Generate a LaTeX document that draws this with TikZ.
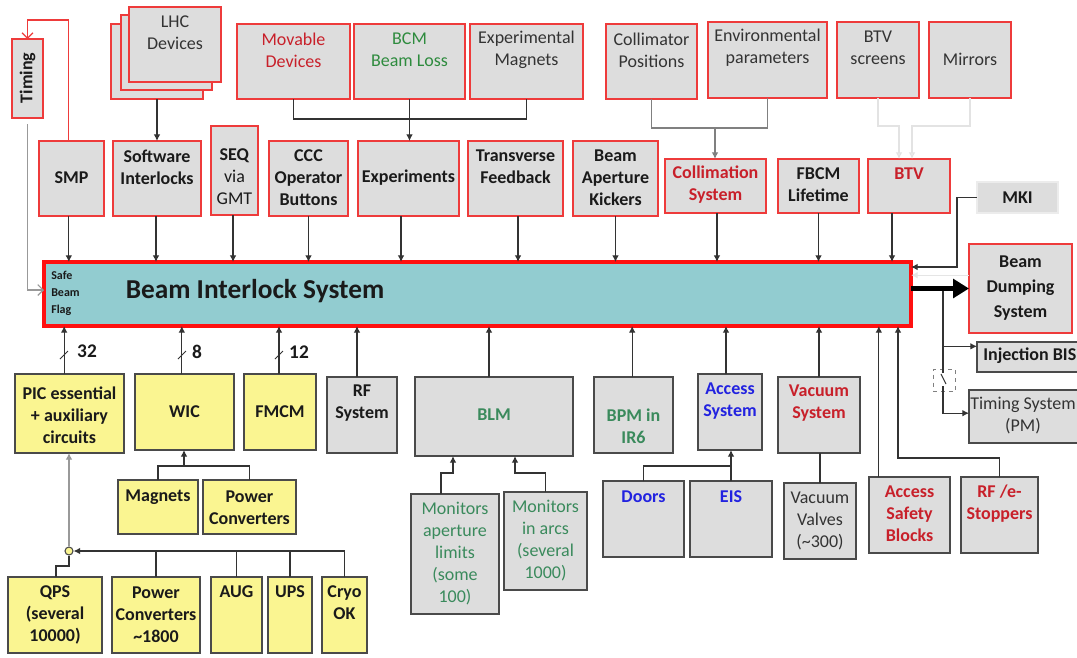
\documentclass[tikz,border=0pt]{standalone}
\usepackage{fontspec}
\setmainfont{Carlito}
\usetikzlibrary{arrows.meta}
\definecolor{boxgray}{HTML}{DDDDDD}
\definecolor{boxred}{HTML}{EE3B3B}
\definecolor{boxdark}{HTML}{4A4A4A}
\definecolor{ylw}{HTML}{FAF591}
\definecolor{bisfill}{HTML}{92CCD0}
\definecolor{bisred}{HTML}{FF1010}
\definecolor{txtdark}{HTML}{1A1A1A}
\definecolor{txtgray}{HTML}{333333}
\definecolor{tred}{HTML}{C8202A}
\definecolor{tgreen}{HTML}{2E8B3E}
\definecolor{tgreen2}{HTML}{3A8A5C}
\definecolor{tblue}{HTML}{2222E0}
\definecolor{linegray}{HTML}{333333}
\definecolor{lightline}{HTML}{999999}
\tikzset{
  base/.style={rectangle, inner sep=0pt, outer sep=0pt},
  rbox/.style={base, fill=boxgray, draw=boxred, line width=1.1pt},
  gbox/.style={base, fill=boxgray, draw=boxdark, line width=1.1pt},
  ybox/.style={base, fill=ylw, draw=boxdark, line width=1.1pt},
  mkibox/.style={base, fill=boxgray, draw=gray!15, line width=1.1pt},
  bisbox/.style={base, fill=bisfill, draw=bisred, line width=2.3pt},
  txt/.style={inner sep=0pt, align=center, font=\fontsize{13.5}{16.5}\selectfont, text=txtgray},
  btxt/.style={txt, font=\fontsize{13.5}{16.5}\selectfont\bfseries, text=txtdark},
  ln/.style={draw=linegray, line width=0.9pt},
  arr/.style={ln, -{Latex[length=5pt,width=5pt]}},
  barb/.style={line width=0.9pt, -{Straight Barb[length=4pt,width=8pt]}},
  wline/.style={draw=gray!22, line width=1pt, -{Latex[open,length=5pt,width=5pt]}},
}
\newcommand\drawbox[9]{%
  \node[#1, minimum width={(#5-#3)*0.75pt}, minimum height={(#6-#4)*0.75pt}] (#2) at ({(#3+#5)/2},{(#4+#6)/2}) {};
  \node[#7] (#2-t) at ({(#3+#5)/2},#8) {#9};}
\begin{document}
\begin{tikzpicture}[x=0.75pt,y=-0.75pt]
\clip (0,0) rectangle (1077,657);
\fill[white] (0,0) rectangle (1077,657);

% ---------- top row ----------
\node[rbox, minimum width=69pt, minimum height=56.25pt] (lhcc) at (157,61.5) {};
\node[rbox, minimum width=68.25pt, minimum height=56.25pt] (lhcb) at (166.5,52.5) {};
\drawbox{rbox}{lhc}{129}{7}{221}{82}{txt}{33}{LHC\\Devices}
\drawbox{rbox}{mov}{237}{24}{350}{99}{txt, text=tred}{50}{Movable\\Devices}
\drawbox{rbox}{bcm}{354}{24}{465}{99}{txt, text=tgreen}{50}{BCM\\Beam Loss}
\drawbox{rbox}{exm}{470}{24}{583}{99}{txt}{50}{Experimental\\Magnets}
\drawbox{rbox}{colp}{606}{24}{697}{99}{txt}{50}{Collimator\\Positions}
\drawbox{rbox}{env}{708}{22}{827}{98}{txt}{48}{Environmental\\parameters}
\drawbox{rbox}{btvs}{837}{22}{919}{98}{txt}{48}{BTV\\screens}
\drawbox{rbox}{mir}{929}{22}{1011}{98}{txt}{59}{Mirrors}
\drawbox{rbox}{timing}{12}{39}{43}{118}{btxt, rotate=90}{78}{Timing}

% ---------- second row ----------
\drawbox{rbox}{smp}{39}{141}{104}{216}{btxt}{178}{SMP}
\drawbox{rbox}{swi}{113}{141}{201}{216}{btxt}{167}{Software\\Interlocks}
\drawbox{rbox}{seq}{211}{126}{258}{215}{txt, text=txtdark}{177}{\textbf{SEQ}\\via\\GMT}
\drawbox{rbox}{ccc}{269}{141}{348}{216}{btxt}{178}{CCC\\Operator\\Buttons}
\drawbox{rbox}{exp}{358}{141}{459}{216}{btxt}{178}{Experiments}
\drawbox{rbox}{tfb}{468}{141}{563}{216}{btxt}{167}{Transverse\\Feedback}
\drawbox{rbox}{bak}{573}{141}{658}{216}{btxt}{178}{Beam\\Aperture\\Kickers}
\drawbox{rbox}{coll}{665}{159}{766}{213}{btxt, text=tred}{185}{Collimation\\System}
\drawbox{rbox}{fbcm}{778}{159}{859}{213}{btxt}{185}{FBCM\\Lifetime}
\drawbox{rbox}{btv}{868}{159}{950}{213}{btxt, text=tred}{174}{BTV}
\drawbox{mkibox}{mki}{977}{182}{1058}{213}{btxt}{198}{MKI}

% ---------- BIS ----------
\node[bisbox, minimum width=650.25pt, minimum height=48pt] (bis) at (477.5,294) {};
\node[inner sep=0pt, font=\fontsize{20.5}{24}\selectfont\bfseries, text=txtdark] (bist) at (255,291) {Beam Interlock System};
\node[inner sep=0pt, anchor=west, align=left, font=\fontsize{9}{12.75}\selectfont\bfseries, text=txtdark] (sbf) at (51,293) {Safe\\Beam\\Flag};

% ---------- right side ----------
\drawbox{rbox}{bds}{969}{244}{1072}{333}{btxt, font=\fontsize{13.5}{18.75}\selectfont\bfseries}{288}{Beam\\Dumping\\System}
\node[gbox, minimum width=88.5pt, minimum height=22.5pt] (inj) at (1036,357) {};
\node[btxt, anchor=west] (inj-t) at (983,356) {Injection BIS};
\node[gbox, minimum width=87pt, minimum height=39.75pt] (tsys) at (1027,416.5) {};
\node[txt] (tsys-t) at (1023,416) {Timing System\\(PM)};
\node[draw=gray, dashed, line width=0.6pt, minimum width=16.5pt, minimum height=17pt, inner sep=0pt] (swb) at (944,380.5) {};

% ---------- bottom row 1 ----------
\drawbox{ybox}{pic}{15}{374}{124}{453}{btxt}{415}{PIC essential\\+ auxiliary\\circuits}
\drawbox{ybox}{wic}{135}{374}{234}{450}{btxt}{412}{WIC}
\drawbox{ybox}{fmcm}{244}{374}{316}{450}{btxt}{412}{FMCM}
\drawbox{gbox}{rf}{327}{377}{397}{453}{btxt}{403}{RF\\System}
\drawbox{gbox}{blm}{415}{377}{573}{456}{btxt, text=tgreen2}{415}{BLM}
\drawbox{gbox}{bpm}{594}{377}{673}{453}{btxt, text=tgreen2}{426}{BPM in\\IR6}
\drawbox{gbox}{acc}{698}{374}{762}{450}{btxt, text=tblue}{401}{Access\\System}
\drawbox{gbox}{vac}{778}{377}{860}{453}{btxt, text=tred}{403}{Vacuum\\System}

% ---------- bottom row 2 ----------
\drawbox{ybox}{mag}{118}{480}{198}{534}{btxt}{497}{Magnets}
\drawbox{ybox}{pcw}{203}{480}{296}{534}{btxt}{508}{Power\\Converters}
\drawbox{gbox}{mal}{411}{494}{499}{614}{txt, text=tgreen2}{554}{Monitors\\aperture\\limits\\(some\\100)}
\drawbox{gbox}{mia}{504}{492}{587}{590}{txt, text=tgreen2}{541}{Monitors\\in arcs\\(several\\1000)}
\drawbox{gbox}{doors}{603}{481}{684}{557}{btxt, text=tblue}{497}{Doors}
\drawbox{gbox}{eis}{690}{481}{772}{557}{btxt, text=tblue}{497}{EIS}
\drawbox{gbox}{vv}{784}{483}{856}{559}{txt}{521}{Vacuum\\Valves\\(\textasciitilde300)}
\drawbox{gbox}{asb}{869}{477}{950}{553}{btxt, text=tred}{514}{Access\\Safety\\Blocks}
\drawbox{gbox}{rfe}{961}{477}{1038}{553}{btxt, text=tred}{504}{RF /e-\\Stoppers}

% ---------- bottom yellow row ----------
\drawbox{ybox}{qps}{8}{577}{102}{653}{btxt}{615}{QPS\\(several\\10000)}
\drawbox{ybox}{pc18}{112}{577}{200}{653}{btxt}{615}{Power\\Converters\\\textasciitilde1800}
\drawbox{ybox}{aug}{211}{577}{262}{653}{btxt}{592}{AUG}
\drawbox{ybox}{ups}{268}{577}{312}{653}{btxt}{592}{UPS}
\drawbox{ybox}{cryo}{322}{577}{367}{653}{btxt}{603}{Cryo\\OK}
\node[circle, fill=ylw, draw=boxdark, line width=0.8pt, minimum size=6pt, inner sep=0pt] (jc) at (69,551) {};

% ---------- connectors: top ----------
\coordinate (tk) at (0,20);
\draw[barb, draw=boxred] ([xshift=-2pt]smp.north) |- (timing.north |- tk) -- (timing.north);
\draw[barb, draw=lightline] ([yshift=-4.5pt]timing.south) |- ([yshift=3pt]bis.west);
\draw[arr] (lhcc.south) -- (lhcc.south |- swi.north);
\coordinate (j1) at (410,119);
\draw[ln] (mov.south) |- (j1) -| (exm.south);
\draw[arr] (bcm.south) -- (bcm.south |- exp.north);
\coordinate (j2) at (715,128);
\draw[ln, draw=gray] (colp.south) |- (j2) -| (env.south);
\draw[arr, draw=gray] (j2) -- (j2 |- coll.north);
\coordinate (j9) at (899,126);
\coordinate (j10) at (912,126);
\draw[wline] (btvs.south) |- (j9) -- (j9 |- btv.north);
\draw[wline] (mir.south) |- (j10) -- (j10 |- btv.north);

\foreach \n/\s in {smp/-2pt, swi/-0.75pt, seq/-1.1pt, ccc/0pt, exp/-5.6pt, tfb/1.9pt, bak/0pt, coll/1.1pt, fbcm/0pt, btv/-12.75pt}
  \draw[arr] ([xshift=\s]\n.south) -- ([xshift=\s]\n.south |- bis.north);

\coordinate (jm) at (957,267);
\draw[arr] (mki.west) -| (jm) -- (jm -| bis.east);

% ---------- right outputs ----------
\draw[draw=gray!20, line width=1pt, -{Latex[length=5pt,width=5pt]}] ([yshift=10pt]bds.west) -- ([yshift=10pt]bds.west -| bis.east);
\coordinate (jb) at (943,288);
\draw[arr] (jb) |- ([yshift=8pt]inj.west);
\coordinate (sw1) at (943,373);
\coordinate (sw2) at (941,374);
\coordinate (sw3) at (946,384);
\coordinate (sw4) at (943,386);
\draw[ln] (jb) -- (sw1);
\draw[ln, line width=0.7pt] (sw2) -- (sw3);
\draw[arr] (sw4) |- ([yshift=2.5pt]tsys.west);
\draw[line width=3.8pt, draw=black, -{Triangle[length=12pt,width=14pt]}] (bis.east |- bds.west) -- (bds.west);

% ---------- connectors: bottom ----------
\foreach \n/\s in {pic/-4pt, wic/-2pt, fmcm/-0.75pt, rf/-3.75pt, blm/-3.75pt, bpm/-1pt, acc/-3pt, vac/0pt}
  \draw[arr] ([xshift=\s]\n.north) -- ([xshift=\s]\n.north |- bis.south);
\draw[ln, line width=0.7pt] (60,359) -- (68,351);
\draw[ln, line width=0.7pt] (178,359) -- (186,351);
\draw[ln, line width=0.7pt] (275,359) -- (283,351);
\node[btxt, font=\fontsize{14.5}{16}\selectfont\bfseries] (n32) at (87,351) {32};
\node[btxt, font=\fontsize{14.5}{16}\selectfont\bfseries] (n8) at (197,352) {8};
\node[btxt, font=\fontsize{14.5}{16}\selectfont\bfseries] (n12) at (299,352) {12};

\draw[arr] ([xshift=-23pt]asb.north) -- ([xshift=-23pt]asb.north |- bis.south);
\coordinate (j3) at (898,458);
\draw[arr] (rfe.north) |- (j3) -- (j3 |- bis.south);

\coordinate (j4) at (184,466);
\draw[ln] (mag.north) |- (j4) -| (pcw.north);
\draw[arr] (j4) -- (j4 |- wic.south);

\coordinate (j5) at (453,473);
\draw[arr] ([xshift=-10.5pt]mal.north) |- (j5) -- (j5 |- blm.south);
\coordinate (j6) at (515,473);
\draw[arr] (mia.north) |- (j6) -- (j6 |- blm.south);

\coordinate (j7) at (731,466);
\draw[ln] (doors.north) |- (j7);
\draw[arr] (eis.north) -- (eis.north |- acc.south);

\draw[ln] (vv.north) -- (vv.north |- vac.south);

\draw[arr, draw=lightline] (jc.north) -- (jc.north |- pic.south);
\coordinate (j8) at (56,566);
\draw[ln] (jc.south) |- (j8) -- (j8 |- qps.north);
\draw[arr] (cryo.north) |- (jc.east);
\foreach \n in {pc18, aug, ups}
  \draw[ln] (\n.north) -- (\n.north |- jc.east);
\end{tikzpicture}
\end{document}
